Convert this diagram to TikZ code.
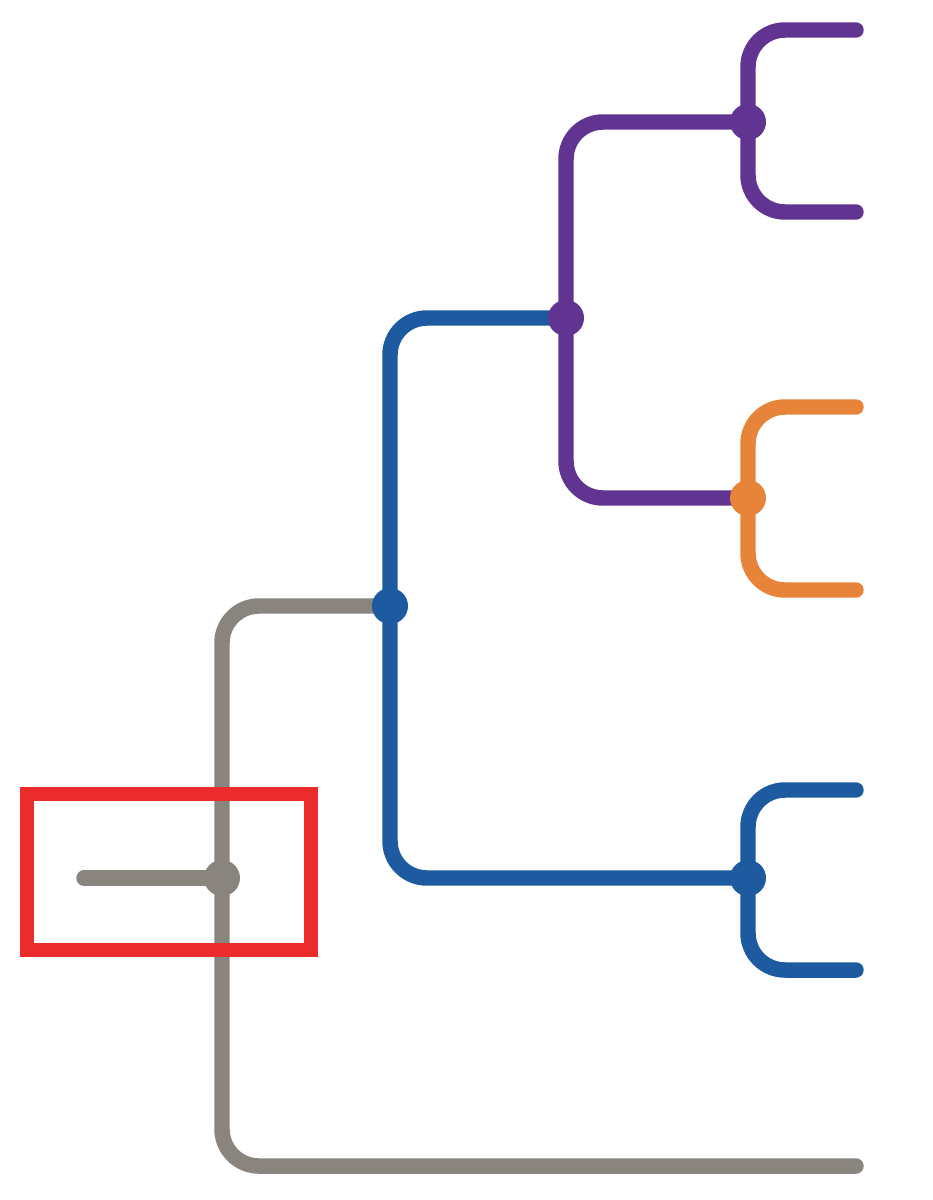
\documentclass[tikz,border=0pt]{standalone}
\usetikzlibrary{backgrounds}

\definecolor{treegrey}{RGB}{138,132,126}
\definecolor{treeblue}{RGB}{30,90,160}
\definecolor{treepurple}{RGB}{98,52,145}
\definecolor{treeorange}{RGB}{232,132,58}
\definecolor{markred}{RGB}{236,44,44}

\begin{document}
\begin{tikzpicture}
        [
            x                    = 0.01cm,
            y                    = -0.01cm,
            dot/.style           = {shape=circle, fill, inner sep=0pt, minimum size=0.36cm},
            branch/.style        = {draw, line width=4.4pt, line cap=round, rounded corners=10.5pt},
            focus/.style         = {shape=rectangle, draw=markred, line width=4pt, inner sep=0pt,
                                    minimum width=2.84cm, minimum height=1.55cm},
            ]
            \useasboundingbox (0,0) rectangle (932,1200);

            % split points
            \node [dot, treegrey]   (root) at (222,878) {};
            \node [dot, treeblue]   (n1)   at (390,606) {};
            \node [dot, treepurple] (n2)   at (566,318) {};
            \node [dot, treepurple] (n3)   at (748,122) {};
            \node [dot, treeorange] (n4)   at (748,498) {};
            \node [dot, treeblue]   (n5)   at (748,878) {};

            % free ends
            \coordinate (stem) at (84,878);
            \coordinate (l1) at (856,30);
            \coordinate (l2) at (856,212);
            \coordinate (l3) at (856,407);
            \coordinate (l4) at (856,590);
            \coordinate (l5) at (856,790);
            \coordinate (l6) at (856,970);
            \coordinate (l7) at (856,1166);

            \begin{scope}[on background layer]
            \draw [branch, treegrey] (stem) -- (root.center);
            \draw [branch, treegrey] (root.center) |- (n1.center);
            \draw [branch, treegrey] (root.center) |- (l7);
            \draw [branch, treeblue] (n1.center) |- (n2.center);
            \draw [branch, treeblue] (n1.center) |- (n5.center);
            \draw [branch, treepurple] (n2.center) |- (n3.center);
            \draw [branch, treepurple] (n2.center) |- (n4.center);
            \draw [branch, treepurple] (n3.center) |- (l1);
            \draw [branch, treepurple] (n3.center) |- (l2);
            \draw [branch, treeorange] (n4.center) |- (l3);
            \draw [branch, treeorange] (n4.center) |- (l4);
            \draw [branch, treeblue] (n5.center) |- (l5);
            \draw [branch, treeblue] (n5.center) |- (l6);
            \end{scope}

            \node [focus] (mark) at (169,872) {};
        \end{tikzpicture}
\end{document}
